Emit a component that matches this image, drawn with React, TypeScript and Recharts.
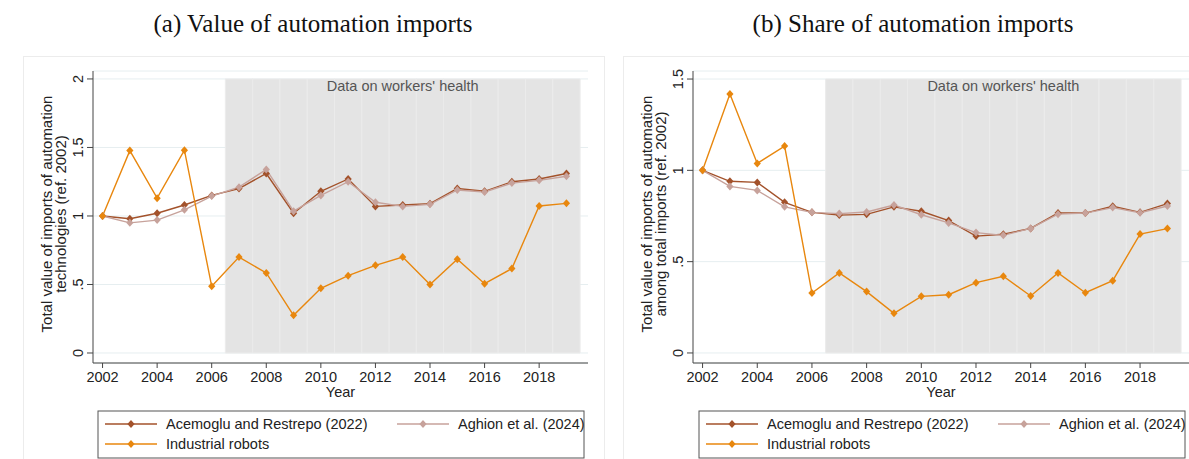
import React from "react";
import { LineChart, Line, XAxis, YAxis, CartesianGrid, ReferenceArea } from "recharts";

const years = [2002, 2003, 2004, 2005, 2006, 2007, 2008, 2009, 2010, 2011, 2012, 2013, 2014, 2015, 2016, 2017, 2018, 2019];
const xTicks = [2002, 2004, 2006, 2008, 2010, 2012, 2014, 2016, 2018];
// years with health data (shaded band, one cell per year)
const healthYears = [2007, 2008, 2009, 2010, 2011, 2012, 2013, 2014, 2015, 2016, 2017, 2018, 2019];

// (a) value of imports, ref. 2002
const valueAcemoglu = [1.0, 0.98, 1.02, 1.08, 1.15, 1.2, 1.31, 1.02, 1.18, 1.27, 1.07, 1.08, 1.09, 1.2, 1.18, 1.25, 1.27, 1.31];
const valueAghion = [1.0, 0.95, 0.97, 1.045, 1.145, 1.21, 1.34, 1.035, 1.15, 1.25, 1.1, 1.07, 1.085, 1.19, 1.175, 1.24, 1.26, 1.29];
const valueRobots = [1.0, 1.477, 1.13, 1.48, 0.487, 0.7, 0.584, 0.275, 0.472, 0.564, 0.64, 0.7, 0.5, 0.684, 0.506, 0.616, 1.073, 1.092];

// (b) share among total imports, ref. 2002
const shareAcemoglu = [1.0, 0.94, 0.934, 0.825, 0.77, 0.755, 0.759, 0.8, 0.776, 0.725, 0.64, 0.65, 0.682, 0.766, 0.766, 0.803, 0.77, 0.818];
const shareAghion = [1.0, 0.912, 0.89, 0.8, 0.77, 0.763, 0.772, 0.81, 0.757, 0.712, 0.659, 0.644, 0.682, 0.76, 0.766, 0.796, 0.768, 0.805];
const shareRobots = [1.0, 1.418, 1.038, 1.133, 0.328, 0.438, 0.336, 0.217, 0.31, 0.319, 0.385, 0.42, 0.312, 0.438, 0.33, 0.396, 0.651, 0.681];

const valueTicks = [0, 0.5, 1, 1.5, 2];
const shareTicks = [0, 0.5, 1, 1.5];

const SERIES = [
  { key: "acemoglu", name: "Acemoglu and Restrepo (2022)", color: "#a3522b" },
  { key: "aghion", name: "Aghion et al. (2024)", color: "#c7a29b" },
  { key: "robots", name: "Industrial robots", color: "#e8870e" },
];

const FONT = "'Liberation Sans', Arial, sans-serif";
const SERIF = "'Liberation Serif', 'Times New Roman', serif";
const FS = 14.5;

const fmt = (v: number) => (v === 0 ? "0" : String(v).replace(/^0\./, "."));

const diamondPath = (cx: number, cy: number) =>
  `M${cx},${cy - 4}L${cx + 3.6},${cy}L${cx},${cy + 4}L${cx - 3.6},${cy}Z`;

const diamond = (color: string) => (p: any) =>
  <path key={`dot-${p.index}`} d={diamondPath(p.cx, p.cy)} fill={color} />;

function YTick(props: any) {
  const { x, y, payload } = props;
  return (
    <text x={x} y={y} transform={`rotate(-90 ${x} ${y})`} textAnchor="middle" fill="#222" fontSize={FS} fontFamily={FONT}>
      {fmt(payload.value)}
    </text>
  );
}

function Panel({ left, width, marginRight, acemoglu, aghion, robots, yDomain, yTicks, shadeTop }: any) {
  const data = years.map((year, i) => ({ year, acemoglu: acemoglu[i], aghion: aghion[i], robots: robots[i] }));
  return (
    <div style={{ position: "absolute", left, top: 0 }}>
      <LineChart width={width} height={459} data={data} margin={{ top: 71, right: marginRight, bottom: 74, left: 33 }}>
        <CartesianGrid vertical={false} stroke="#e6eef0" />
        {healthYears.map((y) => (
          <ReferenceArea key={y} x1={y - 0.5} x2={y + 0.5} y1={0} y2={shadeTop} fill="#e4e4e4" fillOpacity={1} stroke="#ebebeb" strokeWidth={1} />
        ))}
        <ReferenceArea
          x1={healthYears[0] - 0.5}
          x2={healthYears[healthYears.length - 1] + 0.5}
          y1={0}
          y2={shadeTop}
          fillOpacity={0}
          strokeOpacity={0}
          label={{ value: "Data on workers' health", position: "insideTop", offset: 2, fill: "#555", fontSize: FS, fontFamily: FONT }}
        />
        <XAxis
          dataKey="year"
          type="number"
          domain={[2001.65, 2019.79]}
          allowDataOverflow
          ticks={xTicks}
          height={22}
          tickSize={5}
          tickMargin={4}
          stroke="#444"
          tick={{ fill: "#222", fontSize: FS, fontFamily: FONT }}
          label={{ value: "Year", position: "bottom", offset: 2, fill: "#222", fontSize: FS, fontFamily: FONT }}
        />
        <YAxis type="number" domain={yDomain} allowDataOverflow ticks={yTicks} width={60} tickSize={6} tickMargin={4} stroke="#444" tick={<YTick />} />
        {SERIES.map((s) => (
          <Line key={s.key} dataKey={s.key} stroke={s.color} strokeWidth={1.4} dot={diamond(s.color)} activeDot={false} isAnimationActive={false} />
        ))}
      </LineChart>
    </div>
  );
}

function LegendBox({ x }: { x: number }) {
  const cols = [0, 292];
  const rows = [424, 444];
  return (
    <g>
      <rect x={x} y={411} width={486} height={47} fill="#fff" stroke="#555" strokeWidth={1} />
      {SERIES.map((s, i) => {
        const cx = x + 7 + cols[i % 2];
        const cy = rows[Math.floor(i / 2)];
        return (
          <g key={s.key}>
            <line x1={cx} y1={cy} x2={cx + 52} y2={cy} stroke={s.color} strokeWidth={1.4} />
            <path d={diamondPath(cx + 26, cy)} fill={s.color} />
            <text x={cx + 61} y={cy + 5} fontSize={FS} fontFamily={FONT} fill="#222">{s.name}</text>
          </g>
        );
      })}
    </g>
  );
}

function YTitle({ x, lines }: { x: number; lines: string[] }) {
  const cy = 214;
  return (
    <g>
      {lines.map((t, i) => (
        <text key={i} x={x + i * 14} y={cy} transform={`rotate(-90 ${x + i * 14} ${cy})`} textAnchor="middle" fontSize={15} fontFamily={FONT} fill="#222">
          {t}
        </text>
      ))}
    </g>
  );
}

export default function App() {
  return (
    <div style={{ position: "absolute", left: 0, top: 0, width: 1189, height: 459, background: "#fff", overflow: "hidden", fontFamily: FONT }}>
      <svg width={1189} height={459} style={{ position: "absolute", left: 0, top: 0 }}>
        <rect x={23.5} y={56.5} width={581} height={420} fill="none" stroke="#ececec" />
        <rect x={623.5} y={56.5} width={600} height={420} fill="none" stroke="#ececec" />
      </svg>
      <Panel left={0} width={600} marginRight={12} acemoglu={valueAcemoglu} aghion={valueAghion} robots={valueRobots} yDomain={[-0.073, 2.058]} yTicks={valueTicks} shadeTop={2} />
      <Panel left={600} width={589} marginRight={0} acemoglu={shareAcemoglu} aghion={shareAghion} robots={shareRobots} yDomain={[-0.055, 1.544]} yTicks={shareTicks} shadeTop={1.5} />
      <svg width={1189} height={459} style={{ position: "absolute", left: 0, top: 0, pointerEvents: "none" }}>
        <text x={313} y={32} textAnchor="middle" fontSize={25} fontFamily={SERIF} fill="#111">
          (a) Value of automation imports
        </text>
        <text x={913} y={32} textAnchor="middle" fontSize={25} fontFamily={SERIF} fill="#111">
          (b) Share of automation imports
        </text>
        <YTitle x={52} lines={["Total value of imports of automation", "technologies (ref. 2002)"]} />
        <YTitle x={652} lines={["Total value of imports of automation", "among total imports (ref. 2002)"]} />
        <LegendBox x={98} />
        <LegendBox x={699} />
      </svg>
    </div>
  );
}
